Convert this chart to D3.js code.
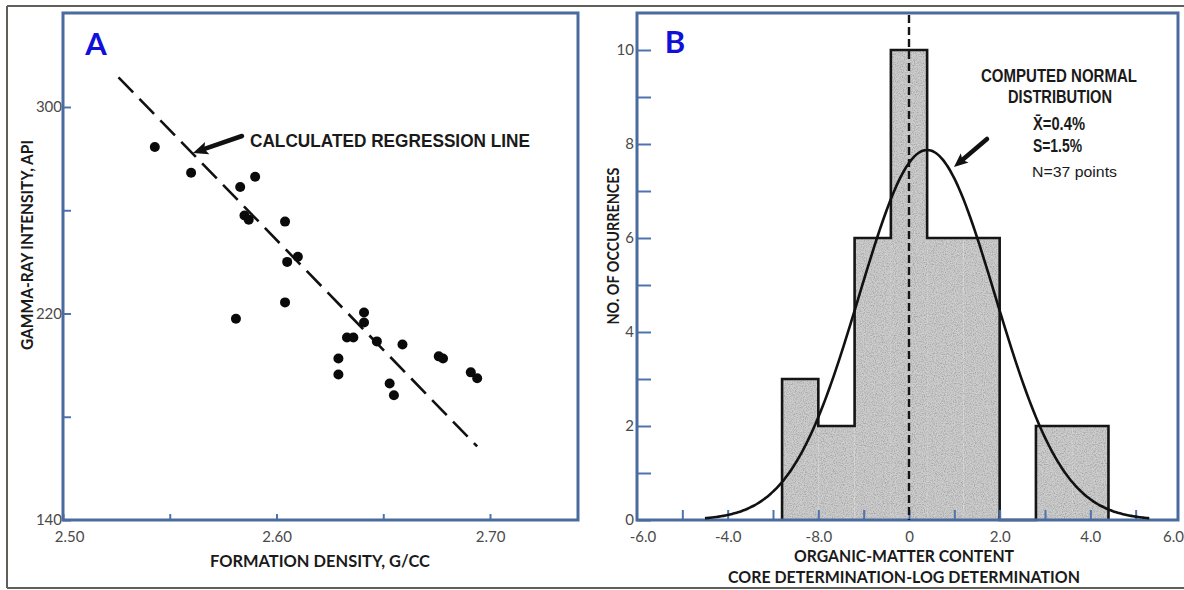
<!DOCTYPE html>
<html>
<head>
<meta charset="utf-8">
<script src="https://cdn.jsdelivr.net/npm/d3@7"></script>
<style>
  html, body { margin: 0; padding: 0; background: #fff; }
  svg { display: block; }
</style>
</head>
<body>
<svg id="fig" width="1184" height="590"></svg>
<script>
// ---- Panel A: formation density vs gamma-ray intensity ----
const densityValues = [2.543, 2.560, 2.583, 2.590, 2.585, 2.587, 2.604, 2.605, 2.610, 2.604,
                       2.581, 2.641, 2.641, 2.633, 2.636, 2.647, 2.659, 2.629, 2.629, 2.676,
                       2.678, 2.691, 2.694, 2.653, 2.655];
const gammaValues   = [284.5, 274.5, 269.0, 273.0, 258.0, 256.3, 255.6, 240.0, 242.0, 224.3,
                       218.0, 220.4, 216.5, 210.7, 210.7, 209.2, 208.0, 202.6, 196.4, 203.4,
                       202.6, 197.2, 194.9, 192.9, 188.3];
const regressionDensity = [2.526, 2.694];
const regressionGamma   = [311.5, 168.5];
const densityTicks      = [2.50, 2.55, 2.60, 2.65, 2.70];
const densityTickLabels = ["2.50", "", "2.60", "", "2.70"];
const gammaTicks        = [140, 180, 220, 260, 300];
const gammaTickLabels   = ["140", "", "220", "", "300"];

// ---- Panel B: histogram of core minus log organic-matter content ----
const binEdges  = [-2.8, -2.0, -1.2, -0.4, 0.4, 1.2, 2.0, 2.8, 3.6, 4.4];
const binCounts = [3, 2, 6, 10, 6, 6, 0, 2, 2];
const meanPct = 0.4;
const sdPct = 1.5;
const nPoints = 37;
const curveRange = [-4.5, 5.3];
const diffTicks      = [-6, -5, -4, -3, -2, -1, 0, 1, 2, 3, 4, 5, 6];
const diffTickLabels = ["-6.0", "", "-4.0", "", "-8.0", "", "0", "", "2.0", "", "4.0", "", "6.0"];
const countTicks      = [0, 1, 2, 3, 4, 5, 6, 7, 8, 9, 10];
const countTickLabels = ["0", "", "2", "", "4", "", "6", "", "8", "", "10"];

const BOX = "#4a6b9d";
const TICK = "#4d74b0";
const LABEL = "#4a4a4a";
const svg = d3.select("#fig");

// outer frame
const frame = svg.append("g").attr("stroke", "#625e5a").attr("stroke-width", 2);
frame.append("line").attr("x1", 7).attr("x2", 1184).attr("y1", 6).attr("y2", 6);
frame.append("line").attr("x1", 7).attr("x2", 7).attr("y1", 6).attr("y2", 588);
frame.append("line").attr("x1", 7).attr("x2", 1184).attr("y1", 588).attr("y2", 588);

function styleAxis(g, fontSize) {
  g.select(".domain").remove();
  g.selectAll(".tick line").attr("stroke", TICK).attr("stroke-width", 2);
  g.selectAll(".tick text")
    .attr("fill", LABEL)
    .attr("font-family", "Lato, 'Open Sans', sans-serif")
    .attr("font-size", fontSize);
}

function drawArrow(g, x1, y1, x2, y2, headLen, headHalf) {
  const dx = x2 - x1, dy = y2 - y1;
  const len = Math.hypot(dx, dy);
  const ux = dx / len, uy = dy / len;
  const bx = x2 - ux * headLen, by = y2 - uy * headLen;
  g.append("line")
    .attr("x1", x1).attr("y1", y1).attr("x2", bx + ux * 2).attr("y2", by + uy * 2)
    .attr("stroke", "#111").attr("stroke-width", 4.5).attr("stroke-linecap", "round");
  g.append("path")
    .attr("d", `M${x2},${y2} L${bx - uy * headHalf},${by + ux * headHalf} L${bx + ux * 3},${by + uy * 3} L${bx + uy * headHalf},${by - ux * headHalf} Z`)
    .attr("fill", "#111");
}

function panelTitle(g, x, y, txt) {
  g.append("text").attr("x", x).attr("y", y)
    .attr("text-anchor", "middle")
    .attr("font-family", "Lato, 'Open Sans', sans-serif")
    .attr("font-weight", 700).attr("font-size", 31)
    .attr("fill", "#1010d8").text(txt);
}

// ================= Panel A =================
const A = { left: 63, right: 578, top: 13, bottom: 520 };
const xA = d3.scaleLinear().domain([2.50, 2.70]).range([63, 490]);
const yA = d3.scaleLinear().domain([140, 300]).range([520, 107]);
const gA = svg.append("g");

gA.append("rect")
  .attr("x", A.left).attr("y", A.top)
  .attr("width", A.right - A.left).attr("height", A.bottom - A.top)
  .attr("fill", "#fff");

// regression line
gA.append("line")
  .attr("x1", xA(regressionDensity[0])).attr("y1", yA(regressionGamma[0]))
  .attr("x2", xA(regressionDensity[1])).attr("y2", yA(regressionGamma[1]))
  .attr("stroke", "#111").attr("stroke-width", 2.6)
  .attr("stroke-dasharray", "21 9");

// data points
gA.selectAll("circle.pt")
  .data(densityValues.map((d, i) => [d, gammaValues[i]]))
  .join("circle")
  .attr("class", "pt")
  .attr("cx", d => xA(d[0])).attr("cy", d => yA(d[1]))
  .attr("r", 5).attr("fill", "#0a0a0a");

// axes
const axAx = gA.append("g").attr("transform", `translate(0,${A.bottom})`)
  .call(d3.axisBottom(xA).tickValues(densityTicks).tickSize(-6).tickPadding(11)
    .tickFormat((d, i) => densityTickLabels[i]));
styleAxis(axAx, 15);
axAx.selectAll(".tick").filter(d => d === 2.50).select("text").attr("dx", 6);

const axAy = gA.append("g").attr("transform", `translate(${A.left},0)`)
  .call(d3.axisLeft(yA).tickValues(gammaTicks).tickSize(-8).tickPadding(1)
    .tickFormat((d, i) => gammaTickLabels[i]));
styleAxis(axAy, 15);

gA.append("rect")
  .attr("x", A.left).attr("y", A.top)
  .attr("width", A.right - A.left).attr("height", A.bottom - A.top)
  .attr("fill", "none").attr("stroke", BOX).attr("stroke-width", 3);

// annotation
gA.append("text").attr("x", 250).attr("y", 146.5)
  .attr("font-family", "'Liberation Sans', Arial, sans-serif")
  .attr("font-weight", 700).attr("font-size", 19).attr("fill", "#1a1a1a")
  .attr("textLength", 280).attr("lengthAdjust", "spacingAndGlyphs")
  .text("CALCULATED REGRESSION LINE");
drawArrow(gA, 242, 136, 193, 153, 15, 6.5);

panelTitle(gA, 96, 55, "A");

// axis titles
gA.append("text").attr("x", 320).attr("y", 567)
  .attr("text-anchor", "middle")
  .attr("font-family", "Lato, 'Open Sans', sans-serif")
  .attr("font-weight", 700).attr("font-size", 17).attr("fill", "#1a1a1a")
  .attr("textLength", 220).attr("lengthAdjust", "spacingAndGlyphs")
  .text("FORMATION DENSITY, G/CC");
gA.append("text")
  .attr("transform", "translate(33,245) rotate(-90)")
  .attr("text-anchor", "middle")
  .attr("font-family", "Lato, 'Open Sans', sans-serif")
  .attr("font-weight", 700).attr("font-size", 17).attr("fill", "#1a1a1a")
  .attr("textLength", 210).attr("lengthAdjust", "spacingAndGlyphs")
  .text("GAMMA-RAY INTENSITY, API");

// ================= Panel B =================
const B = { left: 637, right: 1178, top: 13, bottom: 520 };
const xB = d3.scaleLinear().domain([-6, 6]).range([637, 1181]);
const yB = d3.scaleLinear().domain([0, 10]).range([520, 50]);
const gB = svg.append("g");

gB.append("rect")
  .attr("x", B.left).attr("y", B.top)
  .attr("width", B.right - B.left).attr("height", B.bottom - B.top)
  .attr("fill", "#fff");

const bins = binCounts.map((c, i) => ({ x0: binEdges[i], x1: binEdges[i + 1], count: c }));

// grainy grey fill of each bin
const defs = svg.append("defs");
const grain = defs.append("filter").attr("id", "grain")
  .attr("x", 0).attr("y", 0).attr("width", 1).attr("height", 1);
grain.append("feTurbulence").attr("type", "fractalNoise")
  .attr("baseFrequency", 0.9).attr("numOctaves", 2).attr("seed", 3).attr("result", "noise");
grain.append("feColorMatrix").attr("in", "noise").attr("type", "matrix")
  .attr("values", "0 0 0 0 0  0 0 0 0 0  0 0 0 0 0  0 0 0 -0.9 0.55").attr("result", "speck");
grain.append("feComposite").attr("in", "speck").attr("in2", "SourceGraphic").attr("operator", "in").attr("result", "speckIn");
grain.append("feBlend").attr("in", "SourceGraphic").attr("in2", "speckIn").attr("mode", "multiply");

gB.append("g").attr("filter", "url(#grain)")
  .selectAll("rect.bin")
  .data(bins.filter(b => b.count > 0))
  .join("rect")
  .attr("class", "bin")
  .attr("x", d => xB(d.x0)).attr("width", d => xB(d.x1) - xB(d.x0))
  .attr("y", d => yB(d.count)).attr("height", d => yB(0) - yB(d.count))
  .attr("fill", "#cdcdcd");

// histogram silhouette
const outline = [[binEdges[0], 0]];
bins.forEach(b => { outline.push([b.x0, b.count]); outline.push([b.x1, b.count]); });
outline.push([binEdges[binEdges.length - 1], 0]);
gB.append("path")
  .attr("d", d3.line().x(d => xB(d[0])).y(d => yB(d[1]))(outline))
  .attr("fill", "none").attr("stroke", "#151515").attr("stroke-width", 2.6)
  .attr("stroke-linejoin", "miter");

// axes
const axBx = gB.append("g").attr("transform", `translate(0,${B.bottom})`)
  .call(d3.axisBottom(xB).tickValues(diffTicks.filter(d => d > -6 && d < 6)).tickSize(-10).tickPadding(11)
    .tickFormat(d => diffTickLabels[diffTicks.indexOf(d)]));
styleAxis(axBx, 15);
// end labels of the difference axis sit at the frame corners
const endLabels = gB.append("g")
  .attr("font-family", "Lato, 'Open Sans', sans-serif").attr("font-size", 15).attr("fill", LABEL);
endLabels.append("text").attr("x", xB(-6) + 6).attr("y", B.bottom + 11).attr("dy", "0.71em")
  .attr("text-anchor", "middle").text(diffTickLabels[0]);
endLabels.append("text").attr("x", 1184).attr("y", B.bottom + 11).attr("dy", "0.71em")
  .attr("text-anchor", "end").text(diffTickLabels[diffTickLabels.length - 1]);

const axBy = gB.append("g").attr("transform", `translate(${B.left},0)`)
  .call(d3.axisLeft(yB).tickValues(countTicks).tickSize(-14).tickPadding(3)
    .tickFormat((d, i) => countTickLabels[i]));
styleAxis(axBy, 15);

gB.append("rect")
  .attr("x", B.left).attr("y", B.top)
  .attr("width", B.right - B.left).attr("height", B.bottom - B.top)
  .attr("fill", "none").attr("stroke", BOX).attr("stroke-width", 3);

// zero-difference reference line
gB.append("line")
  .attr("x1", xB(0)).attr("x2", xB(0)).attr("y1", B.top + 2).attr("y2", B.bottom)
  .attr("stroke", "#151515").attr("stroke-width", 2.4)
  .attr("stroke-dasharray", "8 4");

// normal curve scaled to the histogram: N * bin width * pdf
const binWidth = binEdges[1] - binEdges[0];
const normal = x => nPoints * binWidth * Math.exp(-0.5 * ((x - meanPct) / sdPct) ** 2) / (sdPct * Math.sqrt(2 * Math.PI));
const curveXs = d3.range(curveRange[0], curveRange[1] + 0.01, 0.05);
gB.append("path")
  .attr("d", d3.line().x(x => xB(x)).y(x => yB(normal(x))).curve(d3.curveMonotoneX)(curveXs))
  .attr("fill", "none").attr("stroke", "#111").attr("stroke-width", 2.6);

// annotation
const noteFont = "'Liberation Sans', Arial, sans-serif";
const note = gB.append("g").attr("font-family", noteFont).attr("font-weight", 700).attr("fill", "#1a1a1a");
note.append("text").attr("x", 1059).attr("y", 82).attr("text-anchor", "middle").attr("font-size", 18)
  .attr("textLength", 156).attr("lengthAdjust", "spacingAndGlyphs").text("COMPUTED NORMAL");
note.append("text").attr("x", 1060).attr("y", 103).attr("text-anchor", "middle").attr("font-size", 18)
  .attr("textLength", 104).attr("lengthAdjust", "spacingAndGlyphs").text("DISTRIBUTION");
note.append("text").attr("x", 1033).attr("y", 130).attr("font-size", 18)
  .attr("textLength", 52).attr("lengthAdjust", "spacingAndGlyphs").text(`X\u0304=${meanPct}%`);
note.append("text").attr("x", 1033).attr("y", 152).attr("font-size", 18)
  .attr("textLength", 49).attr("lengthAdjust", "spacingAndGlyphs").text(`S=${sdPct}%`);
note.append("text").attr("x", 1032).attr("y", 177).attr("font-size", 14).attr("font-weight", 400)
  .attr("textLength", 85).attr("lengthAdjust", "spacingAndGlyphs").text(`N=${nPoints} points`);
drawArrow(gB, 987, 139, 954, 167, 14, 6);

panelTitle(gB, 675, 53, "B");

// axis titles
const titleB = gB.append("g").attr("font-family", "Lato, 'Open Sans', sans-serif")
  .attr("font-weight", 700).attr("fill", "#1a1a1a").attr("text-anchor", "middle");
titleB.append("text").attr("x", 904).attr("y", 562).attr("font-size", 17)
  .attr("textLength", 220).attr("lengthAdjust", "spacingAndGlyphs").text("ORGANIC-MATTER CONTENT");
titleB.append("text").attr("x", 904).attr("y", 583).attr("font-size", 17)
  .attr("textLength", 352).attr("lengthAdjust", "spacingAndGlyphs").text("CORE DETERMINATION-LOG DETERMINATION");
titleB.append("text")
  .attr("transform", "translate(619,246) rotate(-90)").attr("font-size", 17)
  .attr("textLength", 157).attr("lengthAdjust", "spacingAndGlyphs").text("NO. OF OCCURRENCES");
</script>
</body>
</html>
